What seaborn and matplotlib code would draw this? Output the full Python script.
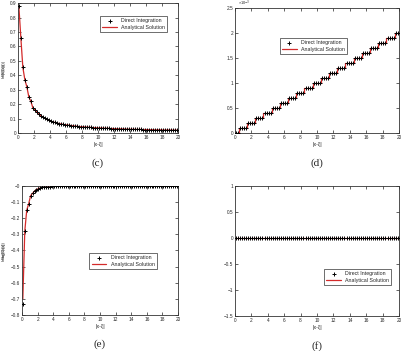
import numpy as np
import pandas as pd
import matplotlib
matplotlib.use("Agg")
import matplotlib.pyplot as plt
import seaborn as sns

# sample positions |x - xi|
dist = [0.10, 0.35, 0.60, 0.85, 1.10, 1.35, 1.60, 1.85, 2.10, 2.35,
        2.60, 2.85, 3.10, 3.35, 3.60, 3.85, 4.10, 4.35, 4.60, 4.85,
        5.10, 5.35, 5.60, 5.85, 6.10, 6.35, 6.60, 6.85, 7.10, 7.35,
        7.60, 7.85, 8.10, 8.35, 8.60, 8.85, 9.10, 9.35, 9.60, 9.85,
        10.10, 10.35, 10.60, 10.85, 11.10, 11.35, 11.60, 11.85, 12.10, 12.35,
        12.60, 12.85, 13.10, 13.35, 13.60, 13.85, 14.10, 14.35, 14.60, 14.85,
        15.10, 15.35, 15.60, 15.85, 16.10, 16.35, 16.60, 16.85, 17.10, 17.35,
        17.60, 17.85, 18.10, 18.35, 18.60, 18.85, 19.10, 19.35, 19.60, 19.85]

# (c) real part
re_c = [0.880, 0.660, 0.455, 0.370, 0.320, 0.250, 0.220, 0.175, 0.160, 0.145,
        0.130, 0.120, 0.110, 0.103, 0.095, 0.088, 0.082, 0.077, 0.073, 0.069,
        0.066, 0.063, 0.060, 0.058, 0.056, 0.054, 0.052, 0.050, 0.048, 0.047,
        0.045, 0.044, 0.043, 0.042, 0.041, 0.040, 0.039, 0.038, 0.037, 0.036,
        0.035, 0.035, 0.034, 0.033, 0.033, 0.032, 0.031, 0.031, 0.030, 0.030,
        0.029, 0.029, 0.028, 0.028, 0.027, 0.027, 0.026, 0.026, 0.026, 0.025,
        0.025, 0.025, 0.024, 0.024, 0.024, 0.023, 0.023, 0.023, 0.022, 0.022,
        0.022, 0.022, 0.021, 0.021, 0.021, 0.021, 0.020, 0.020, 0.020, 0.020]

# (d) imaginary part (x 10^-3)
im_d = [0.0, 0.0, 0.1, 0.1, 0.1, 0.1, 0.2, 0.2, 0.2, 0.2,
        0.3, 0.3, 0.3, 0.3, 0.4, 0.4, 0.4, 0.4, 0.5, 0.5,
        0.5, 0.5, 0.6, 0.6, 0.6, 0.6, 0.7, 0.7, 0.7, 0.7,
        0.8, 0.8, 0.8, 0.8, 0.9, 0.9, 0.9, 0.9, 1.0, 1.0,
        1.0, 1.0, 1.1, 1.1, 1.1, 1.1, 1.2, 1.2, 1.2, 1.2,
        1.3, 1.3, 1.3, 1.3, 1.4, 1.4, 1.4, 1.4, 1.5, 1.5,
        1.5, 1.5, 1.6, 1.6, 1.6, 1.6, 1.7, 1.7, 1.7, 1.7,
        1.8, 1.8, 1.8, 1.8, 1.9, 1.9, 1.9, 1.9, 2.0, 2.0]

# (e) real part
re_e = [-0.730, -0.280, -0.150, -0.110, -0.060, -0.045, -0.032, -0.022, -0.016, -0.012,
        -0.009, -0.007, -0.005, -0.004, -0.003, -0.002, -0.002, -0.001, -0.001, -0.001] + [0.0] * 60
re_e_analytic = [-0.700] + re_e[1:]

# (f) imaginary part
im_f = [0.0] * 80

panels = [
    dict(direct=re_c, analytic=re_c, ylabel="Re(G(x))", ylim=(0, 0.9), yticks=np.arange(0, 0.91, 0.1),
         cap="(c)", legend=(0.95, 0.92), pos=[0.045, 0.621, 0.399, 0.370], steps=False),
    dict(direct=im_d, analytic=im_d, ylabel="Im(G(x))", ylim=(0, 2.5), yticks=np.arange(0, 2.51, 0.5),
         cap="(d)", legend=(0.70, 0.78), pos=[0.586, 0.621, 0.409, 0.356], steps=True),
    dict(direct=re_e, analytic=re_e_analytic, ylabel="Re(G(x))", ylim=(-0.8, 0), yticks=np.arange(-0.8, 0.01, 0.1),
         cap="(e)", legend=(0.88, 0.50), pos=[0.055, 0.103, 0.389, 0.367], steps=False),
    dict(direct=im_f, analytic=im_f, ylabel="Imag(G(x))", ylim=(-1.5, 1), yticks=np.arange(-1.5, 1.01, 0.5),
         cap="(f)", legend=(0.97, 0.38), pos=[0.586, 0.100, 0.409, 0.370], steps=False),
]

sns.set_style("ticks")
plt.rcParams["font.family"] = ["Liberation Sans", "DejaVu Sans"]

fig = plt.figure(figsize=(4.01, 3.51), dpi=100)

for p in panels:
    ax = fig.add_axes(p["pos"])
    df = pd.DataFrame({"x": dist, "direct": p["direct"], "analytic": p["analytic"]})
    sns.lineplot(data=df, x="x", y="analytic", ax=ax, color="#d42a2a", linewidth=0.9,
                 drawstyle="steps-mid" if p["steps"] else "default", label="Analytical Solution")
    sns.scatterplot(data=df, x="x", y="direct", ax=ax, marker="+", color="black", s=6,
                    linewidth=0.7, label="Direct Integration", zorder=3)
    ax.set_xlim(0, 20)
    ax.set_ylim(*p["ylim"])
    ax.set_xticks(np.arange(0, 21, 2))
    ax.set_yticks(p["yticks"])
    ax.set_yticklabels([f"{v:g}".replace("-", "\u2212") for v in np.round(p["yticks"], 2)])
    ax.tick_params(direction="in", length=2, width=0.5, labelsize=3.4, pad=1.2,
                   top=True, right=True)
    for s in ax.spines.values():
        s.set_linewidth(0.6)
        s.set_color("#333333")
    ax.set_xlabel("|x-ξ|", fontsize=3.8, labelpad=1.5)
    ax.set_ylabel(p["ylabel"], fontsize=3.0)
    # keep the y label just inside the left edge of the figure
    lx = (6.0 / 401 - p["pos"][0]) / p["pos"][2]
    ax.yaxis.set_label_coords(lx, 0.5)
    h, l = ax.get_legend_handles_labels()
    leg = ax.legend(h[::-1], l[::-1], loc="upper right", bbox_to_anchor=p["legend"], fontsize=3.8,
                    frameon=True, fancybox=False, edgecolor="black", borderpad=0.4,
                    handlelength=2.8, labelspacing=0.3, markerscale=1.2)
    leg.get_frame().set_linewidth(0.5)
    if p["steps"]:
        ax.text(0.02, 1.002, "×10$^{-3}$", transform=ax.transAxes, fontsize=2.8, va="bottom")
    bx = p["pos"][0] + p["pos"][2] / 2
    fig.text(bx, p["pos"][1] - 0.085, p["cap"], ha="center", va="center",
             fontsize=8, family="Liberation Serif")

fig.savefig("out.png", dpi=100)
